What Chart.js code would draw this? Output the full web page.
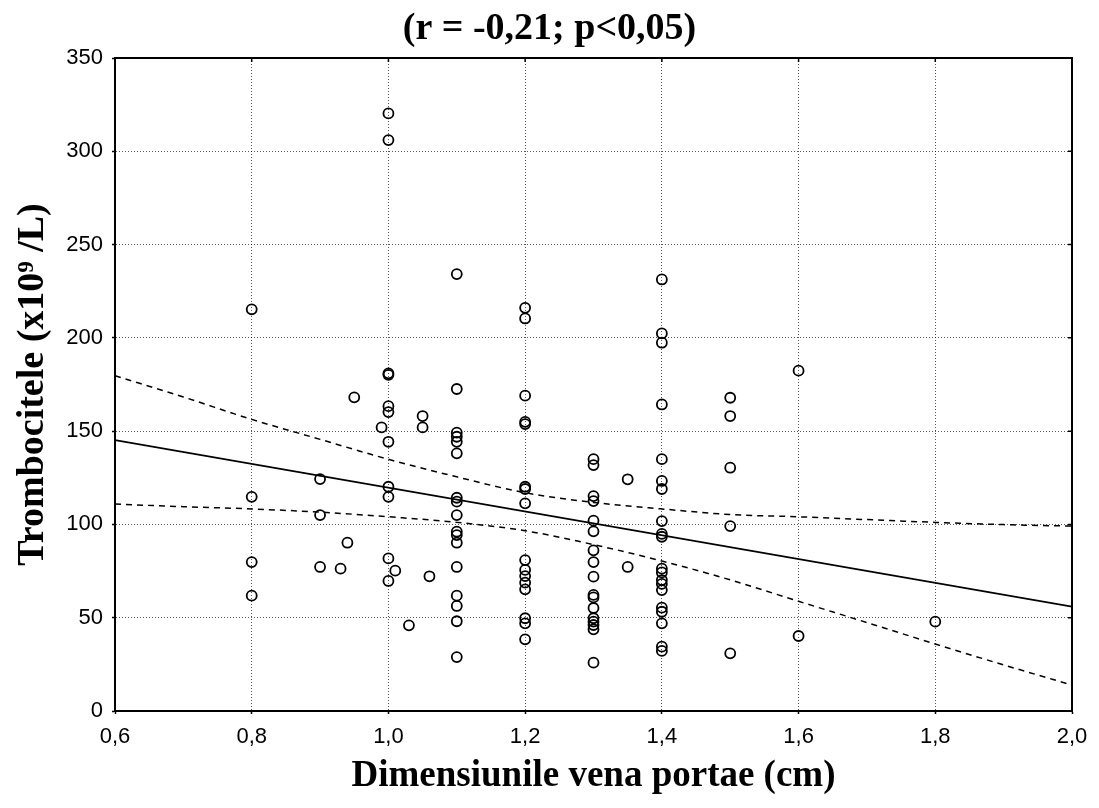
<!DOCTYPE html>
<html>
<head>
<meta charset="utf-8">
<script src="https://cdn.jsdelivr.net/npm/chart.js@4.4.1/dist/chart.umd.min.js"></script>
<style>
  html, body { margin: 0; padding: 0; background: #fff; }
  #wrap { width: 1099px; height: 808px; }
</style>
</head>
<body>
<div id="wrap"><canvas id="scatterChart"></canvas></div>
<script>
// Punctele (dimensiunea venei porte, trombocite)
const ptX = [
    0.8, 0.8, 0.8, 0.8,
    0.9, 0.9, 0.9, 0.93, 0.94, 0.95, 0.99,
    1.0, 1.0, 1.0, 1.0, 1.0, 1.0, 1.0, 1.0, 1.0, 1.0, 1.0,
    1.01, 1.03, 1.05, 1.05, 1.06,
    1.1, 1.1, 1.1, 1.1, 1.1, 1.1, 1.1, 1.1, 1.1, 1.1, 1.1, 1.1, 1.1, 1.1, 1.1, 1.1, 1.1,
    1.2, 1.2, 1.2, 1.2, 1.2, 1.2, 1.2, 1.2, 1.2, 1.2, 1.2, 1.2, 1.2, 1.2, 1.2, 1.2,
    1.3, 1.3, 1.3, 1.3, 1.3, 1.3, 1.3, 1.3, 1.3, 1.3, 1.3, 1.3, 1.3, 1.3, 1.3, 1.3, 1.3,
    1.35, 1.35,
    1.4, 1.4, 1.4, 1.4, 1.4, 1.4, 1.4, 1.4, 1.4, 1.4, 1.4, 1.4, 1.4, 1.4, 1.4, 1.4, 1.4, 1.4, 1.4, 1.4,
    1.5, 1.5, 1.5, 1.5, 1.5,
    1.6, 1.6,
    1.8
];
const ptY = [
    215.3, 114.8, 79.8, 61.8,
    124.3, 105, 77.2, 76.3, 90.2, 168.1, 152,
    320.3, 306, 181, 180.2, 163.4, 160.2, 144.3, 120.2, 114.8, 81.8, 69.7,
    75.2, 45.9, 158.1, 152, 72.2,
    234.2, 172.6, 149.2, 147, 144.3, 138.1, 114.3, 112.2, 105, 96.1, 94.3, 90.2, 77.2, 61.8, 56.3, 48.1, 28.9,
    216.1, 210.4, 169, 155, 153.8, 120.2, 119, 111.3, 80.9, 75.6, 72.3, 68.8, 65.2, 49.7, 47, 38.4,
    135, 131.8, 115.2, 112.5, 102, 96.3, 86.1, 79.8, 72, 62.2, 60.9, 55.2, 49.7, 47.9, 46.1, 43.8, 25.9,
    124.2, 77.2,
    231.3, 202.4, 197.4, 164.3, 135, 123.3, 119, 101.8, 94.9, 93.4, 76.3, 74.3, 70.2, 68.1, 64.8, 55.4, 53.2, 47, 34.5, 32.2,
    167.9, 158.1, 130.4, 99.1, 30.9,
    182.4, 40.2,
    47.9
];

// Dreapta de regresie
const fitX = [0.6, 2.0];
const fitY = [145.2, 55.9];

// Intervalul de incredere (linii punctate)
const bandX = [0.6, 0.7, 0.8, 0.9, 1.0, 1.1, 1.2, 1.3, 1.4, 1.5, 1.6, 1.7, 1.8, 1.9, 2.0];
const bandUpper = [179.7, 168.3, 156.3, 145.6, 134.9, 125.5, 117, 111.8, 108.3, 105.3, 104.1, 102.6, 101.1, 99.9, 99.1];
const bandLower = [110.9, 109.5, 108.3, 106.6, 104.1, 101.1, 96.6, 89.2, 80.4, 70.3, 58.8, 47.4, 35.9, 24.7, 13.9];

const xTicks = [0.6, 0.8, 1.0, 1.2, 1.4, 1.6, 1.8, 2.0];
const yTicks = [0, 50, 100, 150, 200, 250, 300, 350];

const titleText = '(r = -0,21; p<0,05)';
const xTitle = 'Dimensiunile vena portae (cm)';
const yTitle = 'Trombocitele (x10\u2079 /L)';

const toPoints = (xs, ys) => xs.map((x, i) => ({ x: x, y: ys[i] }));

// rama, liniutele interioare si titlul
const framePlugin = {
    id: 'frame',
    afterDraw(chart) {
        const { ctx, chartArea: a, scales } = chart;
        ctx.save();
        ctx.strokeStyle = '#000';
        ctx.lineWidth = 2;
        ctx.strokeRect(a.left, a.top, a.right - a.left, a.bottom - a.top);
        ctx.lineWidth = 1.5;
        ctx.beginPath();
        xTicks.forEach(v => {
            const px = scales.x.getPixelForValue(v);
            ctx.moveTo(px, a.top);
            ctx.lineTo(px, a.top + 4);
        });
        yTicks.forEach(v => {
            const py = scales.y.getPixelForValue(v);
            ctx.moveTo(a.right, py);
            ctx.lineTo(a.right - 4, py);
        });
        ctx.stroke();
        ctx.fillStyle = '#000';
        ctx.font = 'bold 38px "Liberation Serif", "Times New Roman", serif';
        ctx.textAlign = 'center';
        ctx.textBaseline = 'middle';
        ctx.fillText(titleText, chart.width / 2, 29);
        ctx.restore();
    }
};

const ctx = document.getElementById('scatterChart').getContext('2d');

new Chart(ctx, {
    type: 'scatter',
    data: {
        datasets: [
            {
                label: 'Puncte',
                data: toPoints(ptX, ptY),
                pointStyle: 'circle',
                pointRadius: 5,
                pointBorderWidth: 1.8,
                pointBorderColor: '#000',
                pointBackgroundColor: 'rgba(0,0,0,0)',
                showLine: false,
                order: 0
            },
            {
                label: 'Regresie',
                data: toPoints(fitX, fitY),
                showLine: true,
                borderColor: '#000',
                borderWidth: 1.8,
                pointRadius: 0,
                order: 1
            },
            {
                label: 'IC superior',
                data: toPoints(bandX, bandUpper),
                showLine: true,
                borderColor: '#000',
                borderWidth: 1.5,
                borderDash: [6, 5],
                cubicInterpolationMode: 'monotone',
                pointRadius: 0,
                order: 1
            },
            {
                label: 'IC inferior',
                data: toPoints(bandX, bandLower),
                showLine: true,
                borderColor: '#000',
                borderWidth: 1.5,
                borderDash: [6, 5],
                cubicInterpolationMode: 'monotone',
                pointRadius: 0,
                order: 1
            }
        ]
    },
    options: {
        responsive: true,
        maintainAspectRatio: false,
        animation: false,
        layout: { padding: { top: 58, right: 27, left: 0, bottom: 0 } },
        plugins: {
            legend: { display: false },
            tooltip: { enabled: false },
            title: { display: false }
        },
        scales: {
            x: {
                type: 'linear',
                min: 0.6,
                max: 2.0,
                afterFit: s => { s.height = 97; },
                afterBuildTicks: s => { s.ticks = xTicks.map(v => ({ value: v })); },
                ticks: {
                    color: '#000',
                    padding: 10,
                    font: { family: '"Liberation Sans", Arial, sans-serif', size: 22 },
                    callback: v => v.toFixed(1).replace('.', ',')
                },
                grid: {
                    color: 'rgba(0,0,0,0.65)',
                    lineWidth: 1,
                    tickLength: 3,
                    tickColor: '#000',
                    tickWidth: 1.5
                },
                border: { display: true, color: '#000', width: 2, dash: [1, 2] },
                title: {
                    display: true,
                    text: xTitle,
                    color: '#000',
                    font: { family: '"Liberation Serif", "Times New Roman", serif', size: 37, weight: 'bold' },
                    padding: { top: 0, bottom: 9 }
                }
            },
            y: {
                type: 'linear',
                min: 0,
                max: 350,
                afterFit: s => { s.width = 115; },
                afterBuildTicks: s => { s.ticks = yTicks.map(v => ({ value: v })); },
                ticks: {
                    color: '#000',
                    padding: 9,
                    font: { family: '"Liberation Sans", Arial, sans-serif', size: 22 }
                },
                grid: {
                    color: 'rgba(0,0,0,0.65)',
                    lineWidth: 1,
                    tickLength: 3,
                    tickColor: '#000',
                    tickWidth: 1.5
                },
                border: { display: true, color: '#000', width: 2, dash: [1, 2] },
                title: {
                    display: true,
                    text: yTitle,
                    color: '#000',
                    font: { family: '"Liberation Serif", "Times New Roman", serif', size: 38, weight: 'bold' },
                    padding: { top: 10, bottom: 0 }
                }
            }
        }
    },
    plugins: [framePlugin]
});
</script>
</body>
</html>
